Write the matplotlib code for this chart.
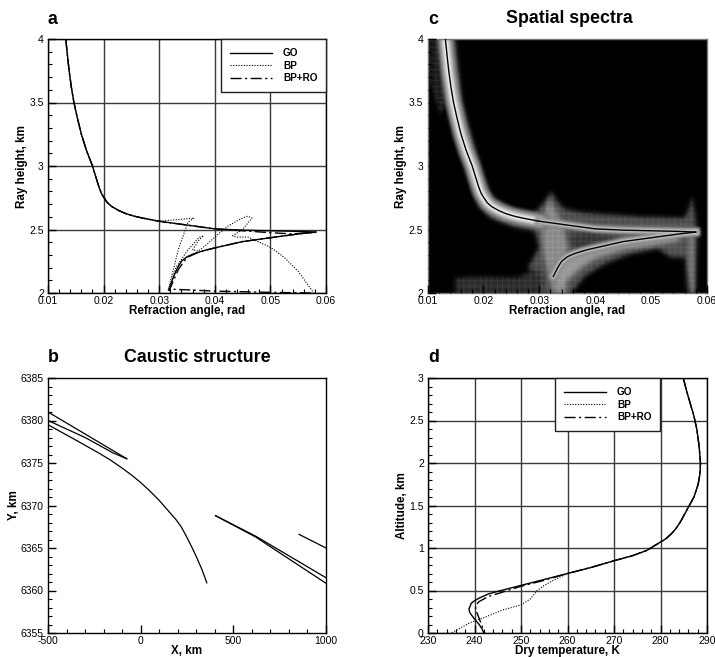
import matplotlib
matplotlib.use("Agg")
import matplotlib.pyplot as plt
import numpy as np
from matplotlib.patches import Rectangle
from matplotlib.ticker import MultipleLocator

plt.rcParams['font.family'] = ['Liberation Sans', 'DejaVu Sans']
plt.rcParams['hatch.linewidth'] = 0.3

# panel a / c: refraction angle vs ray height
top_x = [0.0132, 0.0135, 0.0138, 0.0142, 0.01466, 0.0153, 0.0160, 0.0169, 0.0180, 0.0187, 0.0192, 0.0196, 0.0200, 0.0207, 0.0215, 0.0227, 0.0240,
         0.0255, 0.0270, 0.0300, 0.0350, 0.0400]
top_y = [4.0, 3.87, 3.75, 3.62, 3.5, 3.375, 3.25, 3.125, 3.0, 2.9, 2.83, 2.785, 2.755, 2.71, 2.68, 2.65, 2.625,
         2.605, 2.59, 2.565, 2.535, 2.505]
go_tail_x = [0.0450, 0.0500, 0.0550, 0.0582, 0.0550, 0.0500, 0.0450, 0.0400, 0.0385, 0.0370, 0.0360, 0.0350, 0.0340, 0.0333, 0.0325, 0.0318]
go_tail_y = [2.495, 2.49, 2.485, 2.48, 2.465, 2.435, 2.405, 2.355, 2.34, 2.32, 2.305, 2.285, 2.25, 2.2, 2.12, 2.02]
bp_tail_x = [0.0363, 0.0352, 0.0335, 0.0316, 0.0330, 0.0350, 0.0372, 0.0380, 0.0372, 0.0360, 0.0370, 0.0385, 0.0405, 0.0425, 0.0445,
             0.0459, 0.0467, 0.0450, 0.0432, 0.0440, 0.0460, 0.0480, 0.0500, 0.0525, 0.0550, 0.0578]
bp_tail_y = [2.59, 2.56, 2.35, 2.02, 2.2, 2.33, 2.44, 2.45, 2.42, 2.34, 2.33, 2.38, 2.46, 2.53, 2.58,
             2.605, 2.59, 2.5, 2.45, 2.44, 2.44, 2.4, 2.36, 2.28, 2.17, 2.0]
ro_tail_x = [0.0450, 0.0500, 0.0540, 0.0582, 0.0550, 0.0500, 0.0450, 0.0400, 0.0370, 0.0350, 0.0335, 0.0318, 0.0320, 0.0350, 0.0400,
             0.0450, 0.0500, 0.0580]
ro_tail_y = [2.49, 2.475, 2.465, 2.48, 2.465, 2.435, 2.405, 2.355, 2.32, 2.28, 2.19, 2.02, 2.03, 2.025, 2.015,
             2.01, 2.005, 2.0]

# panel c: flat and lower parts of the ridge
ridge_flat_x = [0.0300, 0.0350, 0.0400, 0.0450, 0.0500, 0.0550, 0.0580]
ridge_flat_y = [2.565, 2.535, 2.505, 2.495, 2.49, 2.485, 2.48]
ridge_low_x = [0.0580, 0.0550, 0.0500, 0.0450, 0.0400, 0.0385, 0.0370, 0.0360, 0.0350, 0.0340, 0.0333, 0.0325]
ridge_low_y = [2.48, 2.465, 2.435, 2.405, 2.355, 2.34, 2.32, 2.305, 2.285, 2.25, 2.2, 2.13]

# outlines of the weak parts of the spectrum
weak_x = [0.0128, 0.0149, 0.0161, 0.0193, 0.0214, 0.0256, 0.0292, 0.0310, 0.0321, 0.0332, 0.0345, 0.0381, 0.0482, 0.0560, 0.0567, 0.0573,
          0.0579, 0.0582, 0.0579, 0.0565, 0.0562, 0.0536, 0.0512, 0.0464, 0.0417, 0.0381, 0.0357, 0.0300, 0.0300, 0.0280,
          0.0300, 0.0292, 0.0256, 0.0214, 0.0193, 0.0179, 0.0149, 0.0134]
weak_y = [4.0, 4.0, 3.5, 3.0, 2.75, 2.65, 2.63, 2.72, 2.80, 2.72, 2.66, 2.63, 2.60, 2.59, 2.65, 2.76,
          2.60, 2.47, 2.02, 2.0, 2.28, 2.28, 2.35, 2.31, 2.23, 2.13, 2.0, 2.0, 2.12, 2.2,
          2.36, 2.49, 2.52, 2.59, 2.68, 2.89, 3.34, 3.55]
corner_x = [0.0150, 0.0200, 0.0260, 0.0300, 0.0310, 0.0300, 0.0150]
corner_y = [2.12, 2.13, 2.12, 2.2, 2.1, 2.0, 2.0]
patch_x = [0.0105, 0.0130, 0.0135, 0.0122, 0.0105]
patch_y = [4.0, 4.0, 3.5, 3.4, 3.65]
core_x = [0.0303, 0.0318, 0.0335, 0.0345, 0.0352, 0.0345, 0.0345, 0.0350, 0.0325, 0.0308]
core_y = [2.55, 2.74, 2.6, 2.5, 2.36, 2.26, 2.15, 2.0, 2.0, 2.3]
hole_x = [0.0352, 0.0390, 0.0430, 0.0450, 0.0400, 0.0365]
hole_y = [2.45, 2.49, 2.46, 2.43, 2.39, 2.33]
under_x = [0.0330, 0.0345, 0.0370, 0.0400, 0.0450, 0.0500, 0.0550, 0.0550, 0.0500, 0.0450, 0.0400, 0.0375, 0.0350, 0.0335]
under_y = [2.2, 2.28, 2.32, 2.36, 2.41, 2.44, 2.47, 2.41, 2.37, 2.34, 2.27, 2.2, 2.1, 2.05]
spur_x = [0.0566, 0.0578, 0.0578, 0.0572, 0.0566]
spur_y = [2.45, 2.45, 2.0, 2.0, 2.2]

# panel b: caustic structure
b1_x = [-500, -75]
b1_y = [6381.0, 6375.5]
b2_x = [-500, -300, -150, -75]
b2_y = [6380.0, 6378.0, 6376.2, 6375.5]
b3_x = [-500, -350, -220, -160, -100, -50, -5, 50, 100, 148, 192, 220, 246, 275, 300, 330, 357]
b3_y = [6379.5, 6377.7, 6376.1, 6375.3, 6374.4, 6373.6, 6372.8, 6371.7, 6370.6, 6369.4, 6368.3, 6367.45, 6366.4, 6365.15, 6364.0, 6362.5, 6360.9]
b4_x = [404, 620, 1000]
b4_y = [6368.8, 6366.4, 6361.5]
b5_x = [404, 620, 1000]
b5_y = [6368.8, 6366.3, 6360.85]
b6_x = [855, 1000]
b6_y = [6366.6, 6365.0]

# panel d: dry temperature vs altitude
upper_t = [284.9, 285.6, 286.4, 287.2, 287.8, 288.3, 288.6, 288.5, 288.1, 287.2, 286.2, 285.2, 284.2, 283.2, 282.2, 281.2, 280, 278.5, 277, 274, 270,
           267.5, 265, 262.5, 260]
upper_h = [3, 2.85, 2.7, 2.55, 2.4, 2.2, 2, 1.88, 1.75, 1.6, 1.5, 1.4, 1.3, 1.22, 1.16, 1.11, 1.07, 1.02, 0.97, 0.91, 0.85,
           0.81, 0.77, 0.735, 0.70]
go_low_t = [255, 250, 245, 243, 241, 240, 239.3, 238.8, 239, 239.5, 240.2, 241, 241.6, 242]
go_low_h = [0.63, 0.56, 0.49, 0.46, 0.41, 0.38, 0.35, 0.28, 0.24, 0.2, 0.15, 0.1, 0.05, 0]
ro_low_t = [255, 250, 246, 243, 241, 240.3, 240.2, 240.8, 241.5, 242.2]
ro_low_h = [0.62, 0.55, 0.48, 0.43, 0.37, 0.33, 0.28, 0.2, 0.1, 0]
bp_low_t = [257, 255, 253.5, 252, 250, 246, 242, 239, 237, 235]
bp_low_h = [0.62, 0.56, 0.5, 0.4, 0.33, 0.27, 0.18, 0.12, 0.06, 0]

series_names = ['GO', 'BP', 'BP+RO']
angle_ticks = [0.01, 0.02, 0.03, 0.04, 0.05, 0.06]
height_ticks = [2, 2.5, 3, 3.5, 4]
x_ticks_b = [-500, 0, 500, 1000]
y_ticks_b = [6355, 6360, 6365, 6370, 6375, 6380, 6385]
temp_ticks = [230, 240, 250, 260, 270, 280, 290]
alt_ticks = [0, 0.5, 1, 1.5, 2, 2.5, 3]

W, H = 715, 657
DOTTED = (0, (1, 1.4))
DASHDOT = (0, (8, 2.5, 1.5, 2.5))
GRID = '#3a3a3a'
fig = plt.figure(figsize=(W / 100, H / 100), dpi=100)


def blur(sigma):
    # gaussian blur used as agg filter for the spectrum layers
    n = int(3 * sigma) + 1
    kernel = np.exp(-0.5 * (np.arange(-n, n + 1) / sigma) ** 2)
    kernel /= kernel.sum()

    def run(image, dpi):
        out = np.pad(image, ((n, n), (n, n), (0, 0)))
        out[..., :3] *= out[..., 3:]
        out = np.apply_along_axis(lambda r: np.convolve(r, kernel, mode='same'), 0, out)
        out = np.apply_along_axis(lambda r: np.convolve(r, kernel, mode='same'), 1, out)
        out[..., :3] /= np.maximum(out[..., 3:], 1e-4)
        return np.clip(out, 0, 1), -n, -n
    return run


def make_axes(left, top, right, bottom):
    return fig.add_axes([left / W, 1 - bottom / H, (right - left) / W, (bottom - top) / H])


def style_axes(ax, xticks, yticks, xminor, yminor, xlabel, ylabel, ylabel_px):
    ax.set_xticks(xticks)
    ax.set_yticks(yticks)
    ax.set_xticklabels([str(t) for t in xticks])
    ax.set_yticklabels([str(t) for t in yticks])
    ax.set_xlim(xticks[0], xticks[-1])
    ax.set_ylim(yticks[0], yticks[-1])
    ax.xaxis.set_minor_locator(MultipleLocator(xminor))
    ax.yaxis.set_minor_locator(MultipleLocator(yminor))
    ax.tick_params(which='major', direction='in', length=6, width=1, labelsize=7.5)
    ax.tick_params(which='minor', direction='in', length=3, width=0.8)
    ax.tick_params(axis='x', which='major', pad=2)
    ax.tick_params(axis='y', which='major', pad=3)
    ax.set_xlabel(xlabel, fontsize=8.4, fontweight='bold', va='center')
    ax.set_ylabel(ylabel, fontsize=8.4, fontweight='bold', va='center')
    ax.xaxis.set_label_coords(0.5, -18 / 254)
    ax.yaxis.set_label_coords(ylabel_px / 279, 0.5)
    for s in ax.spines.values():
        s.set_linewidth(1)


def add_legend(ax, anchor):
    leg = ax.legend(loc='upper left', bbox_to_anchor=anchor, fancybox=False, framealpha=1, edgecolor='#222222',
                    prop={'size': 7.2, 'weight': 'bold'}, handlelength=4.2, handletextpad=1.1, borderpad=0.9,
                    labelspacing=0.27, borderaxespad=0)
    leg.get_frame().set_linewidth(1)
    leg.set_zorder(5)


# a
ax_a = make_axes(48, 39, 326, 293)
ax_a.grid(True, which='major', color=GRID, lw=1)
ax_a.set_axisbelow(True)
ax_a.plot(top_x + go_tail_x, top_y + go_tail_y, color='black', lw=1, label=series_names[0])
ax_a.plot(top_x[:-2] + bp_tail_x, top_y[:-2] + bp_tail_y, color='black', lw=0.8, ls=DOTTED, label=series_names[1])
ax_a.plot(top_x + ro_tail_x, top_y + ro_tail_y, color='black', lw=1, ls=DASHDOT, label=series_names[2])
style_axes(ax_a, angle_ticks, height_ticks, 0.002, 0.1, 'Refraction angle, rad', 'Ray height, km', -26)
add_legend(ax_a, (0.622, 1.0))

# c
ax_c = make_axes(427.5, 39, 707, 293)
ax_c.set_facecolor('black')
ax_c.set_axisbelow(False)
for px, py, shade, sigma, z in [(weak_x, weak_y, '#505050', 2.5, 1), (corner_x, corner_y, '#2c2c2c', 2.5, 1.1),
                                (patch_x, patch_y, '#1a1a1a', 2, 1.1), (core_x, core_y, '#8a8a8a', 2.5, 1.2),
                                (hole_x, hole_y, '#333333', 3, 1.3), (under_x, under_y, '#9a9a9a', 2.5, 1.3),
                                (spur_x, spur_y, '#707070', 1.5, 1.2)]:
    art = ax_c.fill(px, py, facecolor=shade, lw=0, zorder=z)[0]
    art.set_agg_filter(blur(sigma))
    art.set_rasterized(True)
for px, py, alpha in [(weak_x, weak_y, 0.35), (corner_x, corner_y, 0.3), (patch_x, patch_y, 0.3), (core_x, core_y, 0.5)]:
    art = ax_c.fill(px, py, facecolor='none', edgecolor=(0.7, 0.7, 0.7, alpha), hatch='+++', lw=0, zorder=1.5)[0]
    art.set_agg_filter(blur(0.6))
    art.set_rasterized(True)
for lw, shade in [(12, '#707070'), (8.5, '#a0a0a0'), (5, '#d8d8d8'), (2.5, '#f4f4f4')]:
    art = ax_c.plot(top_x[:-2], top_y[:-2], color=shade, lw=lw, zorder=1.8)[0]
    art.set_agg_filter(blur(1.5))
    art.set_rasterized(True)
for lw, shade in [(6, '#808080'), (3.5, '#b4b4b4'), (1.5, '#d0d0d0')]:
    for px, py in [(ridge_flat_x, ridge_flat_y), (ridge_low_x, ridge_low_y)]:
        art = ax_c.plot(px, py, color=shade, lw=lw, zorder=1.9)[0]
        art.set_agg_filter(blur(1.3))
        art.set_rasterized(True)
ax_c.plot(top_x[:-2], top_y[:-2], color='black', lw=1, zorder=3)
ax_c.plot(ridge_flat_x, ridge_flat_y, color='black', lw=1, zorder=3)
ax_c.plot(ridge_low_x, ridge_low_y, color='black', lw=1, zorder=3)
style_axes(ax_c, angle_ticks, height_ticks, 0.002, 0.1, 'Refraction angle, rad', 'Ray height, km', -26)
for s in ax_c.spines.values():
    s.set_color('#777777')
# white frame hides what the blur pushed outside the axes
for rx, ry, rw, rh in [(412, 25, 15.5, 283), (707, 25, 8, 283), (427.5, 293, 280, 15), (427.5, 27, 280, 12)]:
    ax_c.add_patch(Rectangle((rx / W, 1 - (ry + rh) / H), rw / W, rh / H, transform=fig.transFigure,
                             facecolor='white', lw=0, clip_on=False, zorder=2.4))

# b
ax_b = make_axes(48, 378, 326, 633)
for bx, by in [(b1_x, b1_y), (b2_x, b2_y), (b3_x, b3_y), (b4_x, b4_y), (b5_x, b5_y), (b6_x, b6_y)]:
    ax_b.plot(bx, by, color='black', lw=0.9)
style_axes(ax_b, x_ticks_b, y_ticks_b, 100, 1, 'X, km', 'Y, km', -34)

# d
ax_d = make_axes(428, 378, 707, 633)
ax_d.grid(True, which='major', color=GRID, lw=1)
ax_d.set_axisbelow(True)
ax_d.plot(upper_t + go_low_t, upper_h + go_low_h, color='black', lw=1, label=series_names[0])
ax_d.plot(upper_t + bp_low_t, upper_h + bp_low_h, color='black', lw=0.8, ls=DOTTED, label=series_names[1])
ax_d.plot(upper_t + ro_low_t, upper_h + ro_low_h, color='black', lw=1, ls=DASHDOT, label=series_names[2])
style_axes(ax_d, temp_ticks, alt_ticks, 2, 0.1, 'Dry temperature, K', 'Altitude, km', -26)
add_legend(ax_d, (0.455, 1.0))

# panel letters and titles
for x, y, s in [(48, 24, 'a'), (428, 24, 'c'), (48, 362, 'b'), (428, 362, 'd')]:
    fig.text(x / W, 1 - y / H, s, fontsize=12.8, fontweight='bold', ha='left', va='baseline')
fig.text(569.5 / W, 1 - 23 / H, 'Spatial spectra', fontsize=12.8, fontweight='bold', ha='center', va='baseline')
fig.text(197.5 / W, 1 - 362 / H, 'Caustic structure', fontsize=12.8, fontweight='bold', ha='center', va='baseline')

fig.savefig('out.png', dpi=100)
